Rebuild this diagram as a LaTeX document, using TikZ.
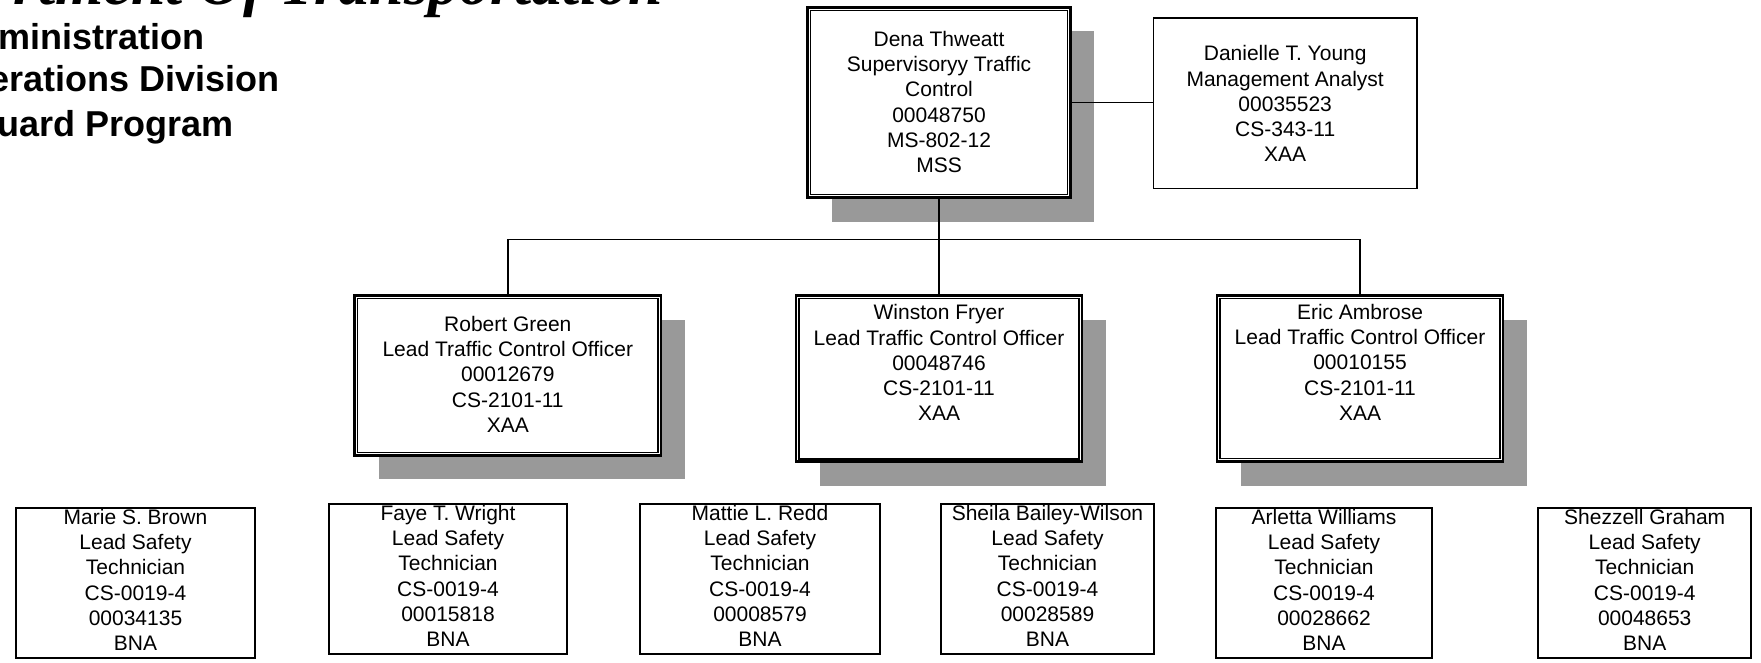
\documentclass[tikz,border=0pt]{standalone}
\usepackage{fontspec}
\setmainfont{Liberation Sans}
\newfontfamily\titleserif{Liberation Serif}
\usetikzlibrary{shadows}
\definecolor{shadowgray}{RGB}{153,153,153}
\tikzset{
  boxtext/.style={font=\fontsize{21}{25.2}\selectfont, align=center, inner sep=0pt, anchor=north},
  topbox/.style={draw, line width=2.7pt, fill=white, inner sep=0pt,
    drop shadow={shadow xshift=24pt, shadow yshift=-24pt, opacity=1, fill=shadowgray}},
  plainbox/.style={draw, line width=1.7pt, fill=white, inner sep=0pt},
  innerline/.style={line width=1.3pt},
  conn/.style={line width=1.5pt},
  mainconn/.style={line width=2.7pt},
  subtitle/.style={font=\fontsize{36}{44}\selectfont\bfseries, anchor=base east, inner sep=0pt},
  bigtitle/.style={font=\titleserif\fontsize{62}{70}\selectfont\bfseries\itshape, anchor=base east, inner sep=0pt},
}
\newcommand{\fl}{\rule{0pt}{16pt}}
\begin{document}
\begin{tikzpicture}[x=1pt,y=-1pt]
\useasboundingbox (0,0) rectangle (1761,662);
\clip (0,0) rectangle (1761,662);
\fill[white] (0,0) rectangle (1761,662);

% titles (cropped at the page edge)
\node[bigtitle] (t0) at (663,4) {rtment Of Transportation};
\node[subtitle] (t1) at (205,49.3) {ministration};
\node[subtitle] (t2) at (280,91.7) {erations Division};
\node[subtitle] (t3) at (234,136.7) {uard Program};

% top level boxes
\node[topbox, minimum width=262.6pt, minimum height=190.3pt] (dena) at (939,102.5) {};
\node[plainbox, minimum width=263.3pt, minimum height=170.3pt] (danielle) at (1285.2,103.3) {};
\node[topbox, minimum width=306.3pt, minimum height=159.7pt] (robert) at (507.8,375.5) {};
\node[topbox, minimum width=286pt, minimum height=166pt] (winston) at (939,378.8) {};
\node[topbox, minimum width=286pt, minimum height=166pt] (eric) at (1360,378.5) {};

\foreach \n in {dena,robert,winston,eric}
  \draw[innerline] ([xshift=4.3pt,yshift=-4.3pt]\n.north west) rectangle ([xshift=-4.3pt,yshift=4.3pt]\n.south east);

% bottom boxes
\node[plainbox, minimum width=238.6pt, minimum height=150pt] (marie) at (135.5,583.2) {};
\node[plainbox, minimum width=238.3pt, minimum height=150pt] (faye) at (448,579.2) {};
\node[plainbox, minimum width=239.4pt, minimum height=150pt] (mattie) at (760,579.2) {};
\node[plainbox, minimum width=213.3pt, minimum height=150pt] (sheila) at (1047.5,579.2) {};
\node[plainbox, minimum width=215.5pt, minimum height=150pt] (arletta) at (1324,583.2) {};
\node[plainbox, minimum width=212.9pt, minimum height=150pt] (shezzell) at (1644.7,583.2) {};

% texts
\node[boxtext] (dena-t) at ([yshift=-24.2pt]dena.north) {\fl Dena Thweatt\\Supervisoryy Traffic\\Control\\00048750\\MS-802-12\\MSS};
\node[boxtext] (danielle-t) at ([yshift=-27.4pt]danielle.north) {\fl Danielle T. Young\\Management Analyst\\00035523\\CS-343-11\\XAA};
\node[boxtext] (robert-t) at ([yshift=-20.9pt]robert.north) {\fl Robert Green\\Lead Traffic Control Officer\\00012679\\CS-2101-11\\XAA};
\node[boxtext] (winston-t) at ([yshift=-9.2pt]winston.north) {\fl Winston Fryer\\Lead Traffic Control Officer\\00048746\\CS-2101-11\\XAA};
\node[boxtext] (eric-t) at ([yshift=-9.2pt]eric.north) {\fl Eric Ambrose\\Lead Traffic Control Officer\\00010155\\CS-2101-11\\XAA};

\node[boxtext] (marie-t) at ([yshift=-1pt]marie.north) {\fl Marie S. Brown\\Lead Safety\\Technician\\CS-0019-4\\00034135\\BNA};
\node[boxtext] (faye-t) at ([yshift=-1pt]faye.north) {\fl Faye T. Wright\\Lead Safety\\Technician\\CS-0019-4\\00015818\\BNA};
\node[boxtext] (mattie-t) at ([yshift=-1pt]mattie.north) {\fl Mattie L. Redd\\Lead Safety\\Technician\\CS-0019-4\\00008579\\BNA};
\node[boxtext] (sheila-t) at ([yshift=-1pt]sheila.north) {\fl Sheila Bailey-Wilson\\Lead Safety\\Technician\\CS-0019-4\\00028589\\BNA};
\node[boxtext] (arletta-t) at ([yshift=-1pt]arletta.north) {\fl Arletta Williams\\Lead Safety\\Technician\\CS-0019-4\\00028662\\BNA};
\node[boxtext] (shezzell-t) at ([yshift=-1pt]shezzell.north) {\fl Shezzell Graham\\Lead Safety\\Technician\\CS-0019-4\\00048653\\BNA};

% connectors
\coordinate (bar) at (939,239.3);
\draw[conn] (dena.east) -- (dena.east -| danielle.west);
\draw[mainconn] (dena.south) -- (dena.south |- bar);
\draw[conn, line join=miter] (robert.north) -- (robert.north |- bar) -- (eric.north |- bar) -- (eric.north);
\draw[conn] (winston.north |- bar) -- (winston.north);
\end{tikzpicture}
\end{document}
